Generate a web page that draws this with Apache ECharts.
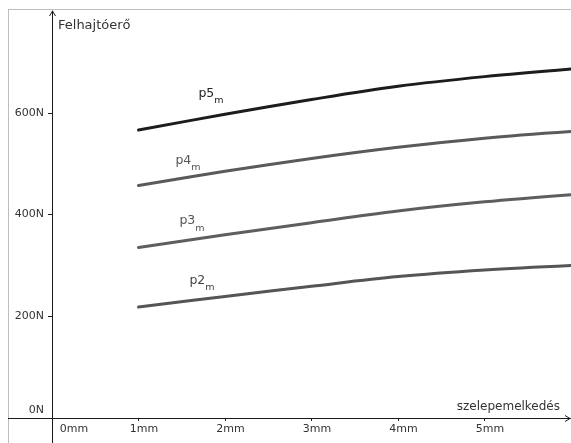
<!DOCTYPE html>
<html>
<head>
<meta charset="utf-8">
<script src="https://cdn.jsdelivr.net/npm/echarts@6/dist/echarts.min.js"></script>
<style>
  html, body { margin: 0; padding: 0; background: #fff; }
  #chart { width: 571px; height: 443px; }
</style>
</head>
<body>
<div id="chart"></div>
<script>
// Valve lift (mm) and lifting force (N) curves for four pressure levels
const liftMm = [1, 2, 3, 4, 5, 6];
const p5m = [566, 597, 626, 652, 671, 686];
const p4m = [457, 485, 510, 532, 550, 563];
const p3m = [335, 360, 384, 407, 425, 439];
const p2m = [218, 239, 259, 278, 291, 300];

const xTicks = [0, 1, 2, 3, 4, 5];
const yTicks = [0, 200, 400, 600];

const seriesNames = ['p5', 'p4', 'p3', 'p2'];
const seriesValues = [p5m, p4m, p3m, p2m];
const seriesColors = ['#1c1c1c', '#5a5a5a', '#5e5e5e', '#555555'];
const labelColors = ['#222222', '#555555', '#555555', '#444444'];
// where each curve's name sits, relative to its 2 mm point
const labelOffsets = [[-14, -20], [-37, -10], [-33, -13], [-23, -15]];

const FONT = 'DejaVu Sans';

const chart = echarts.init(document.getElementById('chart'), null, { renderer: 'canvas' });

const series = seriesValues.map((vals, i) => ({
  type: 'line',
  name: seriesNames[i] + 'm',
  smooth: 0.35,
  showSymbol: false,
  symbol: 'none',
  silent: true,
  z: 3,
  lineStyle: { color: seriesColors[i], width: 3, cap: 'round' },
  data: liftMm.map((x, j) => [x, vals[j]]),
  markPoint: {
    silent: true,
    symbol: 'circle',
    symbolSize: 0,
    itemStyle: { color: 'rgba(0,0,0,0)' },
    data: [{
      coord: [liftMm[1], vals[1]],
      label: {
        show: true,
        position: 'inside',
        offset: labelOffsets[i],
        formatter: '{a|' + seriesNames[i] + '}{b|m}',
        rich: {
          a: { fontFamily: FONT, fontSize: 12.5, color: labelColors[i], lineHeight: 15, verticalAlign: 'top' },
          b: { fontFamily: FONT, fontSize: 9.5, color: labelColors[i], padding: [9, 0, 0, 0], lineHeight: 11, verticalAlign: 'top' }
        }
      }
    }]
  }
}));

const axisColor = '#1a1a1a';
const frameColor = '#bdbdbd';

chart.setOption({
  backgroundColor: '#ffffff',
  animation: false,
  grid: { left: 52, top: 11, width: 520, height: 407, containLabel: false },
  xAxis: {
    type: 'value',
    min: 0, max: 6, interval: 1,
    splitLine: { show: false },
    axisLine: { show: true, onZero: false, lineStyle: { color: axisColor, width: 1 } },
    axisTick: { show: true, length: 3, customValues: xTicks, lineStyle: { color: axisColor } },
    axisLabel: {
      customValues: xTicks,
      margin: 6,
      formatter: v => v === 0 ? '{z|0mm}' : '{n|' + v + 'mm}',
      rich: {
        z: { fontFamily: FONT, fontSize: 11, color: '#333', padding: [0, 0, 0, 44] },
        n: { fontFamily: FONT, fontSize: 11, color: '#333', padding: [0, 0, 0, 11] }
      }
    },
    name: 'szelepemelkedés',
    nameLocation: 'end',
    nameGap: 0,
    nameTextStyle: { fontFamily: FONT, fontSize: 12, color: '#333', align: 'right', verticalAlign: 'bottom', padding: [0, 11, 5, 0] }
  },
  yAxis: {
    type: 'value',
    min: 0, max: 800, interval: 200,
    splitLine: { show: false },
    axisLine: { show: true, onZero: false, lineStyle: { color: axisColor, width: 1 } },
    axisTick: { show: true, length: 4, customValues: yTicks, lineStyle: { color: axisColor } },
    axisLabel: {
      customValues: yTicks,
      margin: 8,
      formatter: v => v === 0 ? '{z|0N}' : '{n|' + v + 'N}',
      rich: {
        z: { fontFamily: FONT, fontSize: 11, color: '#333', padding: [0, 0, 16, 0] },
        n: { fontFamily: FONT, fontSize: 11, color: '#333' }
      }
    },
    name: 'Felhajtóerő',
    nameLocation: 'end',
    nameGap: 0,
    nameTextStyle: { fontFamily: FONT, fontSize: 13, color: '#333', align: 'left', verticalAlign: 'top', padding: [8, 0, 0, 6] }
  },
  graphic: [
    // outer frame
    { type: 'line', shape: { x1: 8, y1: 9.5, x2: 571, y2: 9.5 }, style: { stroke: frameColor, lineWidth: 1 }, silent: true },
    { type: 'line', shape: { x1: 8.5, y1: 9, x2: 8.5, y2: 443 }, style: { stroke: frameColor, lineWidth: 1 }, silent: true },
    // axis extensions past the origin
    { type: 'line', shape: { x1: 8, y1: 418.5, x2: 52, y2: 418.5 }, style: { stroke: axisColor, lineWidth: 1 }, silent: true },
    { type: 'line', shape: { x1: 52.5, y1: 418, x2: 52.5, y2: 443 }, style: { stroke: axisColor, lineWidth: 1 }, silent: true },
    // axis arrowheads
    { type: 'polyline', shape: { points: [[49.5, 16], [52.5, 11], [55.5, 16]] }, style: { stroke: axisColor, lineWidth: 1, fill: null }, silent: true },
    { type: 'polyline', shape: { points: [[565, 415.5], [570, 418.5], [565, 421.5]] }, style: { stroke: axisColor, lineWidth: 1, fill: null }, silent: true }
  ],
  series: series
});
</script>
</body>
</html>
